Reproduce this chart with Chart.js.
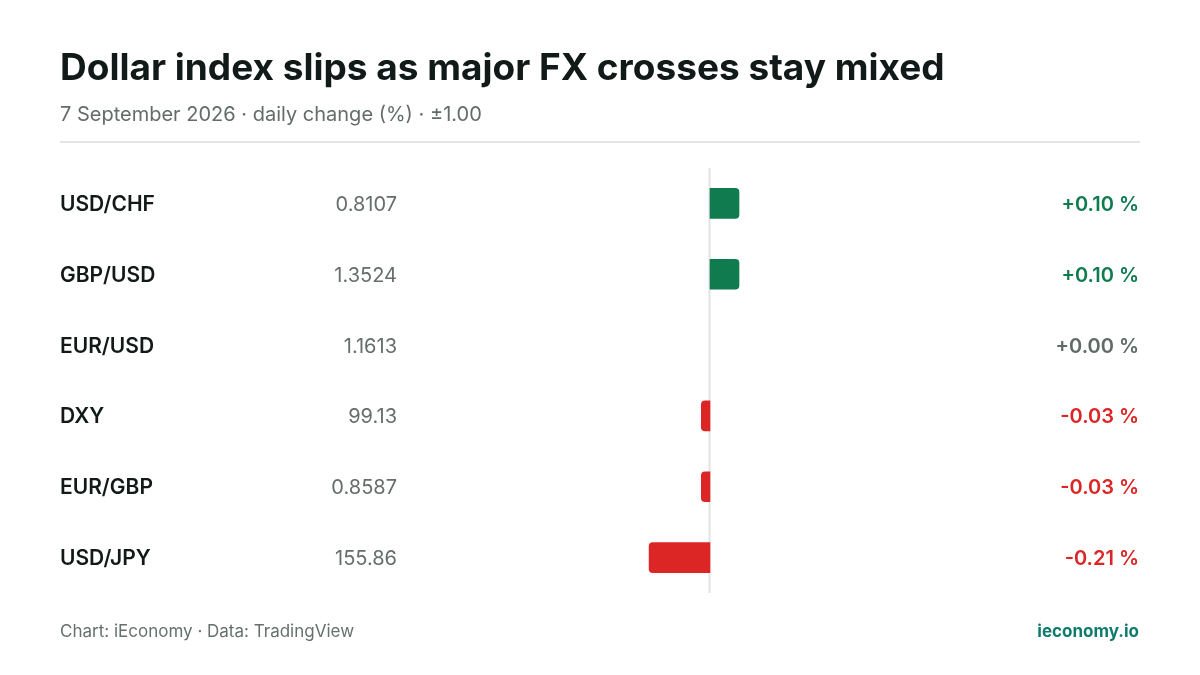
<!DOCTYPE html>
<html>
<head>
<meta charset="utf-8">
<script src="https://cdn.jsdelivr.net/npm/chart.js@4/dist/chart.umd.min.js"></script>
<style>
  html, body { margin: 0; padding: 0; background: #ffffff; }
  #wrap { position: relative; width: 1200px; height: 675px; }
  canvas { display: block; }
  .pre { font-family: Inter; position: absolute; left: -9999px; }
</style>
</head>
<body>
<span class="pre" style="font-weight:400">Aa</span>
<span class="pre" style="font-weight:600">Aa</span>
<span class="pre" style="font-weight:700">Aa</span>
<div id="wrap"><canvas id="c" width="1200" height="675"></canvas></div>
<script>
const pairs = ["USD/CHF", "GBP/USD", "EUR/USD", "DXY", "EUR/GBP", "USD/JPY"];
const prices = ["0.8107", "1.3524", "1.1613", "99.13", "0.8587", "155.86"];
const changes = [0.10, 0.10, 0.00, -0.03, -0.03, -0.21];
const axisMin = -1.0;
const axisMax = 1.0;

const TITLE = "Dollar index slips as major FX crosses stay mixed";
const SUBTITLE = "7 September 2026 \u00b7 daily change (%) \u00b7 \u00b11.00";
const SOURCE = "Chart: iEconomy \u00b7 Data: TradingView";
const BRAND = "ieconomy.io";

const GREEN = "#0f7b4f";
const RED = "#dc2626";
const NEUTRAL = "#5f6b68";
const FONT = "Inter, 'Noto Sans', sans-serif";

function colorFor(v) { return v > 0 ? GREEN : (v < 0 ? RED : NEUTRAL); }
function barColor(v) { return v === 0 ? "rgba(0,0,0,0)" : colorFor(v); }
function fmt(v) { return (v >= 0 ? "+" : "-") + Math.abs(v).toFixed(2) + " %"; }

const decor = {
  id: "decor",
  beforeDatasetsDraw(chart) {
    const ctx = chart.ctx;
    const x = chart.scales.x.getPixelForValue(0);
    const a = chart.chartArea;
    ctx.save();
    ctx.strokeStyle = "#e2e4e3";
    ctx.lineWidth = 2;
    ctx.beginPath();
    ctx.moveTo(x - 0.5, a.top);
    ctx.lineTo(x - 0.5, a.bottom);
    ctx.stroke();
    ctx.restore();
  },
  afterDraw(chart) {
    const ctx = chart.ctx;
    const ys = chart.scales.y;
    ctx.save();
    ctx.fillStyle = "#111a18";
    ctx.font = "700 37px " + FONT;
    ctx.textAlign = "left";
    ctx.textBaseline = "alphabetic";
    ctx.fillText(TITLE, 60, 80);
    ctx.fillStyle = "#626c69";
    ctx.font = "400 20px " + FONT;
    ctx.fillText(SUBTITLE, 60, 121);
    ctx.fillStyle = "#e3e6e5";
    ctx.fillRect(60, 141, 1080, 2);
    pairs.forEach((p, i) => {
      const cy = ys.getPixelForValue(i);
      const by = cy + 7.5;
      ctx.textAlign = "left";
      ctx.fillStyle = "#111a18";
      ctx.font = "600 21px " + FONT;
      ctx.fillText(p, 60, by);
      ctx.textAlign = "right";
      ctx.fillStyle = "#656e6c";
      ctx.font = "400 20px " + FONT;
      ctx.fillText(prices[i], 397, by);
      ctx.fillStyle = colorFor(changes[i]);
      ctx.font = "600 20px " + FONT;
      ctx.fillText(fmt(changes[i]), 1139, by);
    });
    ctx.textAlign = "left";
    ctx.fillStyle = "#66706d";
    ctx.font = "400 17px " + FONT;
    ctx.fillText(SOURCE, 60, 637);
    ctx.textAlign = "right";
    ctx.fillStyle = "#0f7b6c";
    ctx.font = "700 17px " + FONT;
    ctx.fillText(BRAND, 1139, 637);
    ctx.restore();
  }
};

function build() {
  new Chart(document.getElementById("c"), {
    type: "bar",
    data: {
      labels: pairs,
      datasets: [{
        data: changes,
        backgroundColor: changes.map(barColor),
        borderRadius: 4,
        borderSkipped: "start",
        barThickness: 30
      }]
    },
    options: {
      indexAxis: "y",
      responsive: false,
      animation: false,
      devicePixelRatio: 1,
      layout: { padding: { left: 420, right: 200, top: 168, bottom: 82 } },
      plugins: { legend: { display: false }, tooltip: { enabled: false }, title: { display: false } },
      scales: {
        x: { min: axisMin, max: axisMax, display: false },
        y: { display: false, offset: true }
      }
    },
    plugins: [decor]
  });
}

Promise.all([
  document.fonts.load("400 20px Inter"),
  document.fonts.load("600 20px Inter"),
  document.fonts.load("700 36px Inter")
]).then(build, build);
</script>
</body>
</html>
